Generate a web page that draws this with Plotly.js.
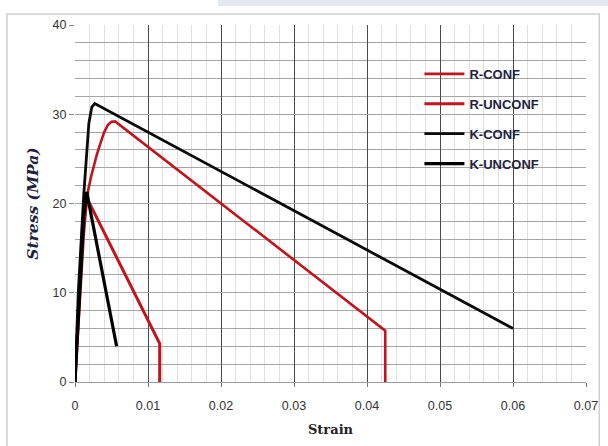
<!DOCTYPE html>
<html>
<head>
<meta charset="utf-8">
<script src="https://cdn.plot.ly/plotly-3.0.1.min.js"></script>
<style>html,body{margin:0;padding:0;background:#fff;}#chart{width:608px;height:446px;}</style>
</head>
<body>
<div id="chart"></div>
<script>
// Series data (strain, stress in MPa)
const rConfX   = [0, 0.0003, 0.0006, 0.0009, 0.0012, 0.0015, 0.0018, 0.0022, 0.0026, 0.003, 0.0035, 0.004, 0.0045, 0.005, 0.0055, 0.0425, 0.0425];
const rConfY   = [0, 4.5, 9, 13, 16.5, 19.3, 21.5, 23, 24.4, 25.5, 26.8, 28, 28.8, 29.15, 29.2, 5.75, 0];
const rUnconfX = [0, 0.0005, 0.001, 0.0014, 0.0116, 0.0116];
const rUnconfY = [0, 9, 17, 21, 4.3, 0];
const kConfX   = [0, 0.00045, 0.0012, 0.0019, 0.0023, 0.0027, 0.06];
const kConfY   = [0, 10, 21, 29, 30.8, 31.2, 6.0];
const kUnconfX = [0, 0.0006, 0.0012, 0.0016, 0.0057];
const kUnconfY = [0, 9.5, 18.5, 21.3, 4.0];
const seriesNames = ['R-CONF', 'R-UNCONF', 'K-CONF', 'K-UNCONF'];
const xTickVals = [0, 0.01, 0.02, 0.03, 0.04, 0.05, 0.06, 0.07];
const xTickText = ['0', '0.01', '0.02', '0.03', '0.04', '0.05', '0.06', '0.07'];
const yTickVals = [0, 10, 20, 30, 40];

const red = '#c3141d';
const traces = [
  {x: rConfX, y: rConfY, name: seriesNames[0], line: {color: red, width: 2.6}},
  {x: rUnconfX, y: rUnconfY, name: seriesNames[1], line: {color: red, width: 3}},
  {x: kConfX, y: kConfY, name: seriesNames[2], line: {color: '#0a0a0a', width: 2.8}},
  {x: kUnconfX, y: kUnconfY, name: seriesNames[3], line: {color: '#000', width: 3.2}}
].map((t, i) => Object.assign(t, {type: 'scatter', mode: 'lines', legendgroup: 'g' + i, line: Object.assign(t.line, {shape: 'linear'})}));

const layout = {
  width: 608, height: 446,
  margin: {l: 75, r: 22, t: 25, b: 64},
  paper_bgcolor: '#fff', plot_bgcolor: '#fff',
  showlegend: true,
  legend: {
    x: 0.674, y: 0.905, xanchor: 'left', yanchor: 'top',
    bgcolor: 'rgba(0,0,0,0)', tracegroupgap: 10, itemwidth: 40,
    font: {family: 'Liberation Sans, Arial, sans-serif', size: 13, color: '#1e2240', weight: 'bold'}
  },
  xaxis: {
    range: [0, 0.07], tickvals: xTickVals, ticktext: xTickText,
    showgrid: true, gridcolor: '#4a4a4a', gridwidth: 1,
    zeroline: false, showline: true, linecolor: '#9a9a9a', linewidth: 1,
    ticks: 'outside', ticklen: 4, tickcolor: '#777', ticklabelstandoff: 8,
    tickfont: {family: 'Liberation Sans, Arial, sans-serif', size: 12.5, color: '#333'},
    minor: {dtick: 0.002, showgrid: true, gridcolor: '#e0e0e0', gridwidth: 1, ticks: ''},
    title: {text: 'Strain', standoff: 12, font: {family: 'DejaVu Serif, serif', size: 13, color: '#222', weight: 'bold'}}
  },
  yaxis: {
    range: [0, 40], tickvals: yTickVals,
    showgrid: true, gridcolor: '#a6a6a6', gridwidth: 1,
    zeroline: false, showline: false,
    ticks: 'outside', ticklen: 5, tickcolor: '#888',
    tickfont: {family: 'Liberation Sans, Arial, sans-serif', size: 12.5, color: '#333'},
    minor: {dtick: 2, showgrid: true, gridcolor: '#a6a6a6', gridwidth: 1, ticks: ''},
    title: {text: '<i>Stress (MPa)</i>', standoff: 10, font: {family: 'DejaVu Serif, serif', size: 15.5, color: '#1e2240', weight: 'bold'}}
  },
  shapes: [
    {type: 'rect', xref: 'paper', yref: 'paper', x0: -0.133, x1: 1.026, y0: -0.2, y1: 1.031,
     line: {color: '#cfcfcf', width: 1.5}, fillcolor: 'rgba(0,0,0,0)', layer: 'below'},
    {type: 'rect', xref: 'paper', yref: 'paper', x0: 0.28, x1: 1.1, y0: 1.053, y1: 1.08,
     line: {width: 0}, fillcolor: '#e4e6f0', layer: 'below'}
  ]
};

Plotly.newPlot('chart', traces, layout, {displayModeBar: false, staticPlot: true});
</script>
</body>
</html>
